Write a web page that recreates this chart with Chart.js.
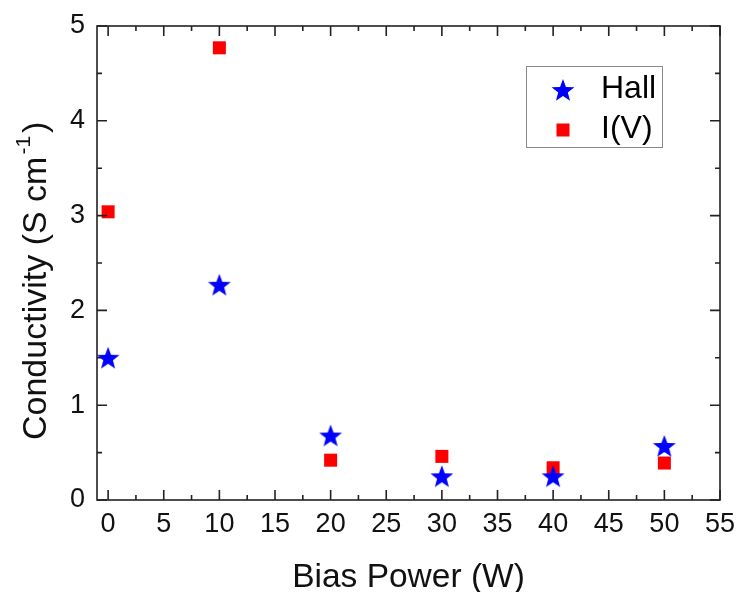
<!DOCTYPE html>
<html>
<head>
<meta charset="utf-8">
<script src="https://cdn.jsdelivr.net/npm/chart.js@4"></script>
<style>
  body { margin: 0; background: #fff; }
  #c { display: block; }
</style>
</head>
<body>
<canvas id="c" width="739" height="592"></canvas>
<script>
const biasPower = [0, 10, 20, 30, 40, 50]
const hallValues = [1.50, 2.27, 0.68, 0.25, 0.25, 0.57]
const ivValues = [3.04, 4.77, 0.42, 0.46, 0.34, 0.39]
const xTicks = [0, 5, 10, 15, 20, 25, 30, 35, 40, 45, 50, 55]
const yTicks = [0, 1, 2, 3, 4, 5]

const FONT = '"Liberation Sans", Arial, sans-serif'

// 塗りつぶしの星マーカー
function makeStar(size, color) {
  const cv = document.createElement('canvas')
  cv.width = size
  cv.height = size
  const g = cv.getContext('2d')
  const cx = size / 2, cy = size / 2 + 1
  const R = size / 2, r = R * 0.42
  g.beginPath()
  for (let i = 0; i < 10; i++) {
    const rad = i % 2 === 0 ? R : r
    const a = -Math.PI / 2 + i * Math.PI / 5
    const px = cx + rad * Math.cos(a), py = cy + rad * Math.sin(a)
    if (i === 0) g.moveTo(px, py)
    else g.lineTo(px, py)
  }
  g.closePath()
  g.fillStyle = color
  g.fill()
  return cv
}
const star = makeStar(24, '#0000ff')

// 枠・内向き目盛り・縦軸タイトル・凡例
const framePlugin = {
  id: 'frame',
  afterDraw(chart) {
    const { ctx, chartArea: a, scales: { x, y } } = chart
    ctx.save()
    ctx.strokeStyle = '#222'
    ctx.lineWidth = 1.6
    ctx.strokeRect(a.left, a.top, a.right - a.left, a.bottom - a.top)
    ctx.beginPath()
    for (let v = 0; v <= 55; v += 2.5) {
      const px = x.getPixelForValue(v)
      const len = v % 5 === 0 ? 10 : 5
      ctx.moveTo(px, a.bottom); ctx.lineTo(px, a.bottom - len)
      ctx.moveTo(px, a.top); ctx.lineTo(px, a.top + len)
    }
    for (let v = 0; v <= 5; v += 0.5) {
      const py = y.getPixelForValue(v)
      const len = Number.isInteger(v) ? 10 : 5
      ctx.moveTo(a.left, py); ctx.lineTo(a.left + len, py)
      ctx.moveTo(a.right, py); ctx.lineTo(a.right - len, py)
    }
    ctx.stroke()

    // 縦軸タイトル（上付き -1）
    ctx.save()
    ctx.translate(46, 440)
    ctx.rotate(-Math.PI / 2)
    ctx.fillStyle = '#111'
    ctx.textBaseline = 'alphabetic'
    ctx.font = '34px ' + FONT
    const main = 'Conductivity (S cm'
    ctx.fillText(main, 0, 0)
    let w = ctx.measureText(main).width + 2
    ctx.font = '21px ' + FONT
    ctx.fillText('-1', w, -16)
    w += ctx.measureText('-1').width + 3
    ctx.font = '34px ' + FONT
    ctx.fillText(')', w, 0)
    ctx.restore()

    // 凡例
    const bx = 526, by = 66, bw = 136, bh = 81
    ctx.strokeStyle = '#8a8a8a'
    ctx.lineWidth = 1
    ctx.strokeRect(bx + 0.5, by + 0.5, bw, bh)
    ctx.font = '32px ' + FONT
    ctx.fillStyle = '#000'
    ctx.textBaseline = 'alphabetic'
    ctx.drawImage(star, 563 - 12, 90 - 12)
    ctx.fillText(chart.data.datasets[0].label, 601, 98)
    ctx.fillStyle = '#ff0000'
    ctx.fillRect(563 - 6.5, 130 - 6.5, 13, 13)
    ctx.fillStyle = '#000'
    ctx.fillText(chart.data.datasets[1].label, 601, 138)
    ctx.restore()
  }
}

new Chart(document.getElementById('c'), {
  type: 'scatter',
  data: {
    datasets: [
      {
        label: 'Hall',
        data: biasPower.map((b, i) => ({ x: b, y: hallValues[i] })),
        pointStyle: star,
        pointRadius: 12,
        backgroundColor: '#0000ff',
        borderColor: '#0000ff'
      },
      {
        label: 'I(V)',
        data: biasPower.map((b, i) => ({ x: b, y: ivValues[i] })),
        pointStyle: 'rect',
        pointRadius: 9.2,
        pointBorderWidth: 0,
        backgroundColor: '#ff0000',
        borderColor: '#ff0000'
      }
    ]
  },
  options: {
    responsive: false,
    animation: false,
    layout: { padding: { top: 26, right: 19, left: 0, bottom: 0 } },
    plugins: {
      legend: { display: false },
      tooltip: { enabled: false }
    },
    scales: {
      x: {
        type: 'linear',
        min: -1,
        max: 55,
        afterBuildTicks(s) { s.ticks = xTicks.map(v => ({ value: v })) },
        afterFit(s) { s.height = 92; s.paddingLeft = 0; s.paddingRight = 0 },
        grid: { display: false, drawTicks: false },
        border: { display: false },
        ticks: { color: '#111', padding: 8, font: { family: FONT, size: 27 } },
        title: {
          display: true,
          text: 'Bias Power (W)',
          color: '#111',
          padding: { top: 14, bottom: -6 },
          font: { family: FONT, size: 33.5 }
        }
      },
      y: {
        type: 'linear',
        min: 0,
        max: 5,
        afterBuildTicks(s) { s.ticks = yTicks.map(v => ({ value: v })) },
        afterFit(s) { s.width = 97; s.paddingTop = 0; s.paddingBottom = 0 },
        grid: { display: false, drawTicks: false },
        border: { display: false },
        ticks: { color: '#111', padding: 12, font: { family: FONT, size: 27 } },
        title: { display: false }
      }
    }
  },
  plugins: [framePlugin]
})
</script>
</body>
</html>
